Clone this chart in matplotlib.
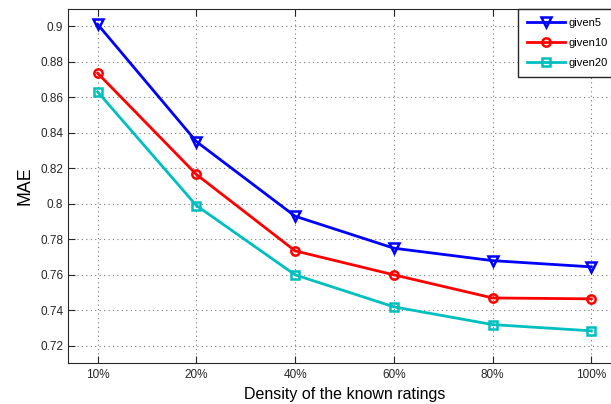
import matplotlib.pyplot as plt
import numpy as np

density = ['10%', '20%', '40%', '60%', '80%', '100%']
given5 = [0.901, 0.835, 0.793, 0.775, 0.768, 0.7645]
given10 = [0.8735, 0.8165, 0.7735, 0.760, 0.747, 0.7465]
given20 = [0.863, 0.799, 0.760, 0.742, 0.732, 0.7285]

plt.rcParams['font.family'] = ['Liberation Sans', 'DejaVu Sans']

fig = plt.figure(figsize=(6.11, 4.04), dpi=100)
# axes runs past the right edge of the figure, like the original
ax = fig.add_axes([68/611, 1-363/404, (621-68)/611, (363-9)/404])

x = np.arange(1, len(density)+1)
ax.plot(x, given5, color='#0000ff', lw=2, marker='v', ms=7, mew=1.8, mfc='none', label='given5')
ax.plot(x, given10, color='#ff0000', lw=2, marker='o', ms=6, mew=1.8, mfc='none', label='given10')
ax.plot(x, given20, color='#00bfbf', lw=2, marker='s', ms=6, mew=1.8, mfc='none', label='given20')

ax.set_xlim(0.7, 6.3)
ax.set_ylim(0.7104, 0.9096)
ax.set_xticks(x)
ax.set_xticklabels(density)
ax.set_yticks(np.arange(0.72, 0.901, 0.02))
ax.set_yticklabels(['0.72', '0.74', '0.76', '0.78', '0.8', '0.82', '0.84', '0.86', '0.88', '0.9'])
ax.tick_params(direction='in', length=5, colors='#262626', top=True, right=True)
ax.tick_params(axis='x', pad=4, labelsize=8.5)
ax.tick_params(axis='y', pad=3.5, labelsize=8.5)
ax.grid(True, linestyle=(0, (1, 3)), color='#777777', lw=0.8)
for s in ax.spines.values():
    s.set_color('#262626')

ax.set_xlabel('Density of the known ratings', fontsize=11.5, labelpad=5)
ax.set_ylabel('MAE', fontsize=12.8, labelpad=5)

leg = ax.legend(loc='upper left', fontsize=8, fancybox=False, framealpha=1,
                edgecolor='#262626', borderaxespad=0, handlelength=3.4,
                labelspacing=0.9, borderpad=0.8, handletextpad=0.35)
leg.get_frame().set_linewidth(1.0)
leg.set_bbox_to_anchor((518/611, 1-9/404), transform=fig.transFigure)

fig.savefig('out.png', dpi=100)
